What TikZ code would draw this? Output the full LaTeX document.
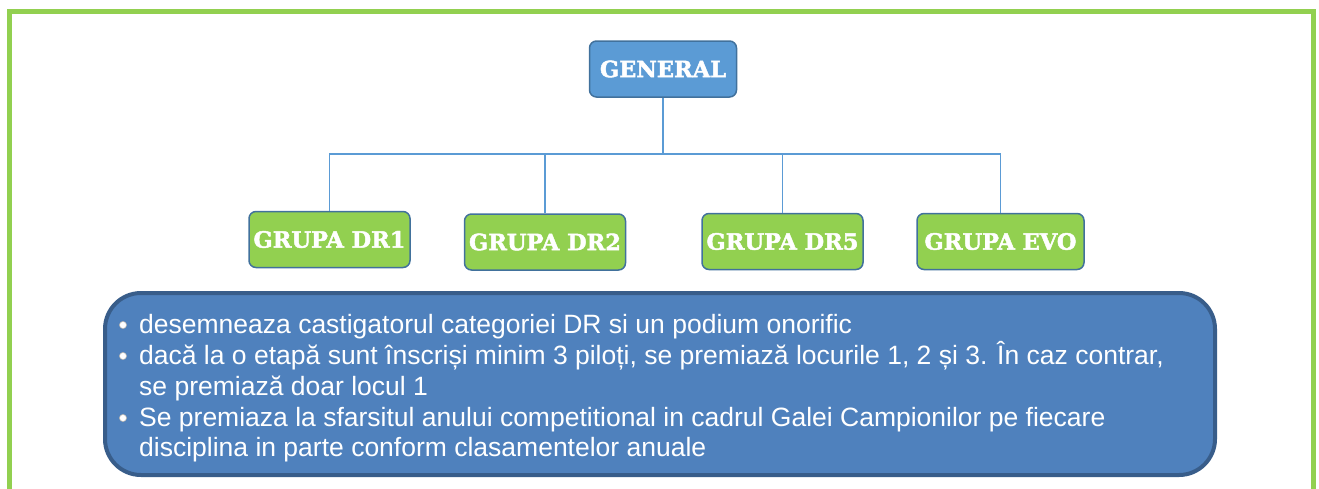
\documentclass[tikz,border=0pt]{standalone}
\usepackage{fontspec}
\setmainfont{Liberation Sans}
\newfontfamily\headfont[FakeBold=2]{DejaVu Serif Bold}
\definecolor{framegreen}{HTML}{92D050}
\definecolor{boxgreen}{HTML}{92D050}
\definecolor{headblue}{HTML}{5B9BD5}
\definecolor{edgeblue}{HTML}{41719C}
\definecolor{bigblue}{HTML}{4F81BD}
\definecolor{bigedge}{HTML}{385D8A}
\definecolor{linkblue}{HTML}{5B9BD5}
\begin{document}
\begin{tikzpicture}[x=1pt,y=-1pt,
  headbox/.style={draw=edgeblue, line width=1.5pt, rounded corners=7pt, fill=headblue,
    minimum width=147pt, minimum height=56pt, text=white, inner sep=0pt,
    font=\headfont\fontsize{22.5}{24}\selectfont},
  groupbox/.style={headbox, fill=boxgreen, minimum width=161pt},
  link/.style={draw=linkblue, line width=1.3pt},
  linetext/.style={anchor=base west, inner sep=0pt, text=white,
    font=\fontsize{26.5}{30}\selectfont},
  bulletdot/.style={fill=white, draw=gray!60, line width=0.6pt}
]
\useasboundingbox (0,0) rectangle (1319,488);
\clip (0,0) rectangle (1319,488);
% outer frame
\draw[framegreen, line width=5pt] (9,500) -- (9,11.5) -- (1313,11.5) -- (1313,500);
% nodes
\node[headbox] (gen) at (663,69) {GENERAL};
\node[groupbox] (dr1) at (329.5,239.5) {GRUPA DR1};
\node[groupbox] (dr2) at (545,242) {GRUPA DR2};
\node[groupbox] (dr5) at (782.5,241.5) {GRUPA DR5};
\node[groupbox, minimum width=167pt] (evo) at (1000.5,241.5) {GRUPA EVO};
\coordinate (hub) at (663,154);
\draw[link] (gen.south) -- (hub);
\draw[link] (dr1.north) -- (dr1.north |- hub) -- (evo.north |- hub) -- (evo.north);
\draw[link] (dr2.north) -- (dr2.north |- hub);
\draw[link] (dr5.north) -- (dr5.north |- hub);
% big box
\node[draw=bigedge, line width=4pt, fill=bigblue, rounded corners=36pt,
  minimum width=1110pt, minimum height=182pt, inner sep=0pt] (info) at (660,384) {};
% bullets
\foreach \yy in {325,356,418} {
  \path[bulletdot] (123,\yy) circle (3.6pt);
}
\node[linetext] (l1) at (139,333) {desemneaza castigatorul categoriei DR si un podium onorific};
\node[linetext] (l2) at (139,364) {dacă la o etapă sunt înscriși minim 3 piloți, se premiază locurile 1, 2 și 3. În caz contrar,};
\node[linetext] (l3) at (139,395) {se premiază doar locul 1};
\node[linetext] (l4) at (139,426) {Se premiaza la sfarsitul anului competitional in cadrul Galei Campionilor pe fiecare};
\node[linetext] (l5) at (139,456) {disciplina in parte conform clasamentelor anuale};
\end{tikzpicture}
\end{document}
